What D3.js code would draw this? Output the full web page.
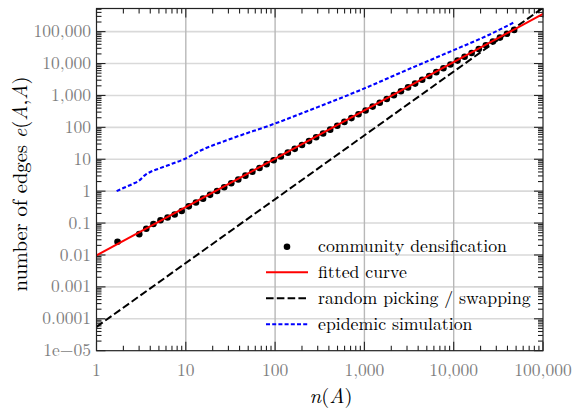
<!DOCTYPE html>
<html>
<head>
<meta charset="utf-8">
<script src="https://cdn.jsdelivr.net/npm/d3@7"></script>
<style>
  html, body { margin: 0; padding: 0; background: #fff; }
  svg { display: block; }
</style>
</head>
<body>
<svg id="chart" width="574" height="411"></svg>
<script>
// ---------- data ----------
const xTicks = [1, 10, 100, 1000, 10000, 100000];
const xTickLabels = ["1", "10", "100", "1,000", "10,000", "100,000"];
const yTicks = [1e-5, 1e-4, 1e-3, 1e-2, 1e-1, 1, 10, 100, 1000, 10000, 100000];
const yTickLabels = ["1e\u221205", "0.0001", "0.001", "0.01", "0.1", "1", "10", "100", "1,000", "10,000", "100,000"];

// community densification (points)
const densN = [1.72, 3.01, 3.61, 4.34, 5.21, 6.25, 7.50, 9.00, 10.8, 13.0, 15.6, 18.7, 22.4, 26.9, 32.3, 38.7,
  46.5, 55.7, 66.9, 80.3, 96.4, 116, 139, 166, 200, 240, 288, 345, 414, 497, 597, 716, 859, 1031, 1238,
  1486, 1782, 2138, 2566, 3081, 3698, 4436, 5321, 6383, 7674, 9204, 11041, 13243, 15885, 19099, 22909,
  27479, 32961, 39537, 47534];
const densE = [0.026, 0.045, 0.066, 0.093, 0.122, 0.150, 0.186, 0.240, 0.334, 0.442, 0.582, 0.767, 1.01,
  1.33, 1.76, 2.32, 3.06, 4.04, 5.32, 7.03, 9.27, 12.2, 16.1, 21.2, 28.1, 37.0, 48.8, 64.3, 84.7, 112, 148,
  195, 256, 337, 447, 589, 776, 1021, 1346, 1782, 2346, 3090, 4074, 5370, 7096, 9354, 12330, 16250, 21430,
  28310, 37330, 49200, 64860, 85500, 113000];

// fitted curve
const fitN = [1, 100000];
const fitE = [0.0097, 360000];

// random picking / swapping
const randN = [1, 100000];
const randE = [0.000056, 560000];

// epidemic simulation
const epiN = [1.68, 2.0, 2.5, 3.0, 3.5, 4.0, 5.0, 7.0, 10, 14.5, 30, 100, 300, 1000, 3000, 10000, 25000, 46600];
const epiE = [1.0, 1.25, 1.65, 2.15, 3.2, 4.0, 5.1, 7.2, 10.6, 18.5, 41, 132, 430, 1660, 6300, 26300, 80000, 190000];

const legendLabels = ["community densification", "fitted curve", "random picking / swapping", "epidemic simulation"];

const FONT = "'Latin Modern Roman', 'Liberation Serif', 'Times New Roman', serif";

// ---------- layout ----------
const svg = d3.select("#chart");
const L = 96.5, R = 543, T = 8.5, B = 350.7;
const x = d3.scaleLog().domain([1, 100000]).range([L, R]);
const y = d3.scaleLog().domain([1e-5, 5.3e5]).range([B, T]);

function fitSize(text, targetWidth, base) {
  const p = svg.append("text").attr("font-family", FONT).attr("font-size", base).text(text);
  const w = p.node().getComputedTextLength();
  p.remove();
  return w > 0 ? base * targetWidth / w : base;
}

svg.append("defs").append("clipPath").attr("id", "clip")
  .append("rect").attr("x", L).attr("y", T).attr("width", R - L).attr("height", B - T);

// grid
const grid = svg.append("g");
grid.selectAll("line.hg").data(yTicks.filter(v => y(v) > T + 1 && y(v) < B - 1)).enter().append("line")
  .attr("x1", L).attr("x2", R).attr("y1", d => y(d)).attr("y2", d => y(d))
  .attr("stroke", "#d9d9d9").attr("stroke-width", 1.6);
grid.selectAll("line.vg").data(xTicks.filter(v => x(v) > L + 1 && x(v) < R - 1)).enter().append("line")
  .attr("y1", T).attr("y2", B).attr("x1", d => x(d)).attr("x2", d => x(d))
  .attr("stroke", "#b8b8b8").attr("stroke-width", 1.4);

// ticks (inward, mirrored)
const MAJ = 9, MIN = 5;
const xMinor = [];
for (let d = 1; d < 100000; d *= 10) for (let k = 2; k <= 9; k++) xMinor.push(d * k);
const yMinor = [];
for (let d = 1e-5; d < 5e5; d *= 10) for (let k = 2; k <= 9; k++) { const v = d * k; if (v < 5.3e5) yMinor.push(v); }

const tk = svg.append("g").attr("stroke", "#222").attr("stroke-width", 1.1);
function xt(vals, len) {
  vals.forEach(v => {
    const px = x(v);
    tk.append("line").attr("x1", px).attr("x2", px).attr("y1", B).attr("y2", B - len);
    tk.append("line").attr("x1", px).attr("x2", px).attr("y1", T).attr("y2", T + len);
  });
}
function yt(vals, len) {
  vals.forEach(v => {
    const py = y(v);
    tk.append("line").attr("y1", py).attr("y2", py).attr("x1", L).attr("x2", L + len);
    tk.append("line").attr("y1", py).attr("y2", py).attr("x1", R).attr("x2", R - len);
  });
}
xt(xTicks, MAJ); xt(xMinor, MIN);
yt(yTicks, MAJ); yt(yMinor, MIN);

// tick labels: "100,000" ~57.5px wide
const tickSize = fitSize("100,000", 57.5, 17);
svg.append("g").selectAll("text").data(xTicks).enter().append("text")
  .attr("x", d => x(d)).attr("y", 375.5).attr("text-anchor", "middle")
  .attr("font-family", FONT).attr("font-size", tickSize).attr("fill", "#7f7f7f")
  .text((d, i) => xTickLabels[i]);
svg.append("g").selectAll("text").data(yTicks).enter().append("text")
  .attr("x", 91).attr("y", d => y(d) + 5.6).attr("text-anchor", "end")
  .attr("font-family", FONT).attr("font-size", tickSize).attr("fill", "#7f7f7f")
  .text((d, i) => yTickLabels[i]);

// series
const plot = svg.append("g").attr("clip-path", "url(#clip)");
const line = d3.line().x(d => x(d[0])).y(d => y(d[1]));

plot.append("path").datum(d3.zip(randN, randE)).attr("d", line)
  .attr("fill", "none").attr("stroke", "#000").attr("stroke-width", 2).attr("stroke-dasharray", "7.6,3.2");
plot.append("path").datum(d3.zip(epiN, epiE)).attr("d", d3.line().curve(d3.curveMonotoneX).x(d => x(d[0])).y(d => y(d[1])))
  .attr("fill", "none").attr("stroke", "#0000ff").attr("stroke-width", 2.1).attr("stroke-dasharray", "4,2.2");
plot.selectAll("circle").data(d3.zip(densN, densE)).enter().append("circle")
  .attr("cx", d => x(d[0])).attr("cy", d => y(d[1])).attr("r", 3.3).attr("fill", "#000");
plot.append("path").datum(d3.zip(fitN, fitE)).attr("d", line)
  .attr("fill", "none").attr("stroke", "#ff0000").attr("stroke-width", 2);

// frame
svg.append("rect").attr("x", L).attr("y", T).attr("width", R - L).attr("height", B - T)
  .attr("fill", "none").attr("stroke", "#222").attr("stroke-width", 1.2);

// legend
const lg = svg.append("g");
const rowY = [246.7, 272.3, 298.3, 324.3];
lg.append("circle").attr("cx", 287).attr("cy", rowY[0]).attr("r", 3.3).attr("fill", "#000");
lg.append("line").attr("x1", 266).attr("x2", 308).attr("y1", rowY[1]).attr("y2", rowY[1])
  .attr("stroke", "#ff0000").attr("stroke-width", 2);
lg.append("line").attr("x1", 266).attr("x2", 308).attr("y1", rowY[2]).attr("y2", rowY[2])
  .attr("stroke", "#000").attr("stroke-width", 2).attr("stroke-dasharray", "7.6,3.2");
lg.append("line").attr("x1", 266).attr("x2", 308).attr("y1", rowY[3]).attr("y2", rowY[3])
  .attr("stroke", "#0000ff").attr("stroke-width", 2.1).attr("stroke-dasharray", "4,2.2");
const legSize = fitSize(legendLabels[0], 189, 17);
lg.selectAll("text").data(legendLabels).enter().append("text")
  .attr("x", 318).attr("y", (d, i) => rowY[i] + 5.5)
  .attr("font-family", FONT).attr("font-size", legSize).attr("fill", "#000").text(d => d);

// axis titles
const titleSize = fitSize("number of edges e(A,A)", 215, 19);
const xt2 = svg.append("text").attr("x", 331).attr("y", 403).attr("text-anchor", "middle")
  .attr("font-family", FONT).attr("font-size", titleSize).attr("fill", "#000");
xt2.append("tspan").attr("font-style", "italic").text("n");
xt2.append("tspan").text("(");
xt2.append("tspan").attr("font-style", "italic").text("A");
xt2.append("tspan").text(")");

const yt2 = svg.append("text").attr("transform", "translate(27,184) rotate(-90)").attr("text-anchor", "middle")
  .attr("font-family", FONT).attr("font-size", titleSize).attr("fill", "#000");
yt2.append("tspan").text("number of edges ");
yt2.append("tspan").attr("font-style", "italic").text("e");
yt2.append("tspan").text("(");
yt2.append("tspan").attr("font-style", "italic").text("A");
yt2.append("tspan").text(",");
yt2.append("tspan").attr("font-style", "italic").text("A");
yt2.append("tspan").text(")");
</script>
</body>
</html>
